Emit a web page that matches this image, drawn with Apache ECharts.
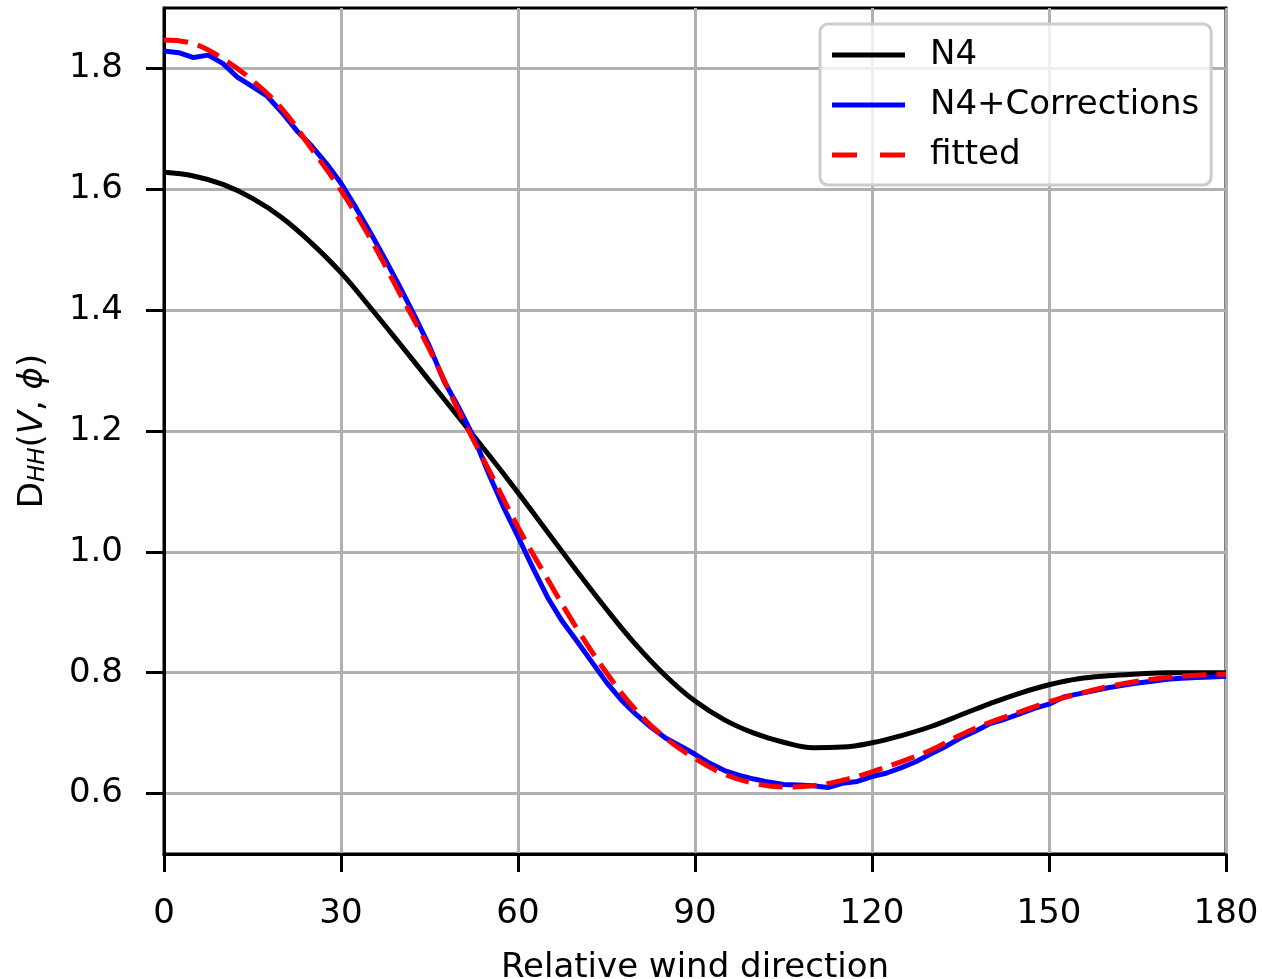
<!DOCTYPE html>
<html>
<head>
<meta charset="utf-8">
<script src="https://cdn.jsdelivr.net/npm/echarts@6/dist/echarts.min.js"></script>
<style>html,body{margin:0;padding:0;background:#fff}#c{width:1262px;height:979px}</style>
</head>
<body>
<div id="c"></div>
<script>
const n4Angles = [0,5,10,15,20,25,30,35,40,45,50,55,60,65,70,75,80,85,90,95,100,105,110,115,120,125,130,135,140,145,150,155,160,165,170,175,180];
const n4Values = [1.628,1.622,1.608,1.585,1.553,1.511,1.462,1.404,1.344,1.283,1.222,1.161,1.098,1.033,0.968,0.905,0.846,0.795,0.753,0.722,0.700,0.685,0.676,0.677,0.684,0.696,0.711,0.73,0.749,0.766,0.78,0.79,0.795,0.798,0.80,0.80,0.80];

const corrAngles = [0,2.5,5,7.5,10,12.5,15,17.5,20,22.5,25,27.5,30,32.5,35,37.5,40,42.5,45,47.5,50,52.5,55,57.5,60,62.5,65,67.5,70,72.5,75,77.5,80,82.5,85,87.5,90,92.5,95,97.5,100,102.5,105,107.5,110,112.5,115,117.5,120,122.5,125,127.5,130,132.5,135,137.5,140,142.5,145,147.5,150,152.5,155,157.5,160,162.5,165,167.5,170,172.5,175,177.5,180];
const corrValues = [1.829,1.826,1.818,1.822,1.808,1.785,1.77,1.754,1.727,1.697,1.672,1.643,1.61,1.57,1.528,1.484,1.438,1.39,1.34,1.282,1.238,1.19,1.13,1.075,1.025,0.974,0.925,0.885,0.852,0.818,0.784,0.755,0.731,0.71,0.692,0.679,0.665,0.65,0.638,0.63,0.624,0.619,0.615,0.614,0.613,0.61,0.617,0.62,0.628,0.634,0.643,0.653,0.666,0.678,0.692,0.703,0.716,0.723,0.732,0.741,0.748,0.76,0.765,0.77,0.775,0.779,0.783,0.786,0.789,0.791,0.792,0.793,0.794];

const fitAngles = [0,5,10,15,20,25,30,35,40,45,50,55,60,65,70,75,80,85,90,95,100,105,110,115,120,125,130,135,140,145,150,155,160,165,170,175,180];
const fitValues = [1.847,1.841,1.816,1.78,1.733,1.667,1.598,1.518,1.427,1.335,1.232,1.137,1.041,0.955,0.873,0.80,0.738,0.692,0.658,0.632,0.617,0.611,0.613,0.622,0.636,0.653,0.672,0.697,0.718,0.735,0.752,0.765,0.777,0.786,0.792,0.796,0.798];

const xTicks = [0,30,60,90,120,150,180];
const yTicks = [0.6,0.8,1.0,1.2,1.4,1.6,1.8];
const seriesNames = ['N4','N4+Corrections','fitted'];

const pairs = (xs, ys) => xs.map((x, i) => [x, ys[i]]);
const FONT = 'DejaVu Sans';
const FS = 34;
const SOLID_ICON = 'path://M0,0h73v5h-73z';
const DASH_ICON = 'path://M0,0h25v5h-25z M48,0h25v5h-25z';

const chart = echarts.init(document.getElementById('c'), null, {renderer: 'canvas'});
chart.setOption({
  animation: false,
  backgroundColor: '#fff',
  textStyle: {fontFamily: FONT},
  grid: {left: 164, right: 36, top: 8, bottom: 125, containLabel: false, outerBoundsMode: 'none', show: true, borderColor: '#000', borderWidth: 3, backgroundColor: 'transparent'},
  legend: {
    orient: 'vertical',
    left: 820, top: 24,
    padding: [14, 12, 13, 12],
    itemWidth: 73, itemHeight: 34, itemGap: 16,
    symbolKeepAspect: true,
    backgroundColor: 'rgba(255,255,255,0.8)',
    borderColor: '#cccccc', borderWidth: 3, borderRadius: 8,
    textStyle: {fontFamily: FONT, fontSize: FS, lineHeight: 34, color: '#000', padding: [0, 0, 0, 20]},
    data: [
      {name: seriesNames[0], icon: SOLID_ICON, itemStyle: {color: '#000000'}},
      {name: seriesNames[1], icon: SOLID_ICON, itemStyle: {color: '#0000ff'}},
      {name: seriesNames[2], icon: DASH_ICON, itemStyle: {color: '#ff0000'}}
    ]
  },
  xAxis: {
    type: 'value', min: 0, max: 180, interval: 30,
    name: 'Relative wind direction', nameLocation: 'middle', nameGap: 97,
    nameTextStyle: {fontFamily: FONT, fontSize: FS, color: '#000'},
    axisLine: {show: true, lineStyle: {color: '#000', width: 3}},
    axisTick: {show: true, inside: false, length: 18, lineStyle: {color: '#000', width: 3}},
    axisLabel: {fontFamily: FONT, fontSize: FS, color: '#000', margin: 43, customValues: xTicks},
    splitLine: {show: true, lineStyle: {color: '#b0b0b0', width: 3}}
  },
  yAxis: {
    type: 'value', min: 0.5, max: 1.9, minInterval: 0.2, maxInterval: 0.2,
    name: '{r|D}{s|HH}{r|(}{i|V}{r|, }{i|ϕ}{r|)}', nameLocation: 'middle', nameGap: 114, nameRotate: 90,
    nameTextStyle: {
      fontFamily: FONT, color: '#000',
      rich: {
        r: {fontFamily: FONT, fontSize: FS, color: '#000', lineHeight: 42, verticalAlign: 'bottom'},
        i: {fontFamily: FONT, fontSize: FS, fontStyle: 'italic', color: '#000', lineHeight: 42, verticalAlign: 'bottom'},
        s: {fontFamily: FONT, fontSize: 23, fontStyle: 'italic', color: '#000', lineHeight: 30, verticalAlign: 'bottom'}
      }
    },
    axisLine: {show: true, lineStyle: {color: '#000', width: 3}},
    axisTick: {show: true, inside: false, length: 18, lineStyle: {color: '#000', width: 3}, customValues: yTicks},
    axisLabel: {fontFamily: FONT, fontSize: FS, color: '#000', margin: 41, customValues: yTicks, formatter: v => v.toFixed(1)},
    splitLine: {show: true, lineStyle: {color: '#b0b0b0', width: 3}}
  },
  series: [
    {name: seriesNames[0], type: 'line', data: pairs(n4Angles, n4Values), smooth: 0.4, symbol: 'none', lineStyle: {color: '#000000', width: 5}, itemStyle: {color: '#000000'}, z: 3},
    {name: seriesNames[1], type: 'line', data: pairs(corrAngles, corrValues), symbol: 'none', lineStyle: {color: '#0000ff', width: 5}, itemStyle: {color: '#0000ff'}, z: 4},
    {name: seriesNames[2], type: 'line', data: pairs(fitAngles, fitValues), smooth: 0.4, symbol: 'none', lineStyle: {color: '#ff0000', width: 5, type: [24, 10]}, itemStyle: {color: '#ff0000'}, z: 5}
  ]
});
</script>
</body>
</html>
